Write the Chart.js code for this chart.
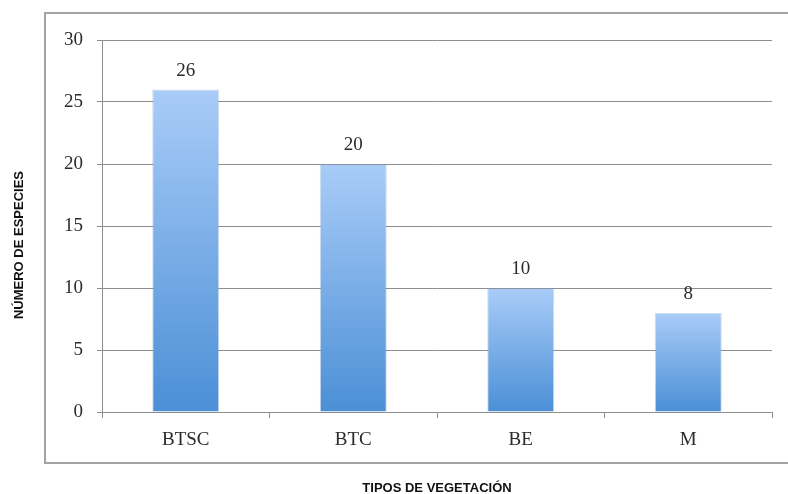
<!DOCTYPE html>
<html>
<head>
<meta charset="utf-8">
<script src="https://cdn.jsdelivr.net/npm/chart.js@4/dist/chart.umd.min.js"></script>
<style>
  html, body { margin: 0; padding: 0; background: #ffffff; }
  #wrap { width: 788px; height: 494px; position: relative; }
</style>
</head>
<body>
<div id="wrap"><canvas id="chart" width="788" height="494"></canvas></div>
<script>
// Número de especies por tipo de vegetación
const categories = ['BTSC', 'BTC', 'BE', 'M'];
const especies = [26, 20, 10, 8];
const yTicks = [0, 5, 10, 15, 20, 25, 30];

const xTitle = 'TIPOS DE VEGETACIÓN';
const yTitle = 'NÚMERO DE ESPECIES';

const serif = '"Liberation Serif", "Times New Roman", serif';
const sans = '"Liberation Sans", Arial, sans-serif';
const gridGray = '#8e8e8e';

// vertical gradient for each bar, light at the top, deeper blue at the base
function barGradient(ctx) {
  const chart = ctx.chart;
  const y = chart.scales.y;
  if (!chart.chartArea || !y || ctx.parsed == null) return '#7aaee8';
  const top = y.getPixelForValue(ctx.parsed.y);
  const base = y.getPixelForValue(0);
  if (!isFinite(top) || !isFinite(base) || top === base) return '#7aaee8';
  const g = chart.ctx.createLinearGradient(0, top, 0, base);
  g.addColorStop(0, '#a9ccf8');
  g.addColorStop(1, '#4b8fd6');
  return g;
}

// frame around the plot and the two axis titles
const framePlugin = {
  id: 'frame',
  beforeDraw(chart) {
    const c = chart.ctx;
    c.save();
    c.strokeStyle = '#a3a3a3';
    c.lineWidth = 2;
    c.strokeRect(45, 13, 800, 450);
    c.restore();
  },
  afterDraw(chart) {
    const c = chart.ctx;
    const area = chart.chartArea;
    c.save();
    c.fillStyle = '#111';
    c.font = 'bold 13px ' + sans;
    c.textAlign = 'center';
    c.textBaseline = 'middle';
    c.fillText(xTitle, (area.left + area.right) / 2, 488);
    c.translate(19, 245);
    c.rotate(-Math.PI / 2);
    c.fillText(yTitle, 0, 0);
    c.restore();
  }
};

// value printed above each bar
const valueLabels = {
  id: 'valueLabels',
  afterDatasetsDraw(chart) {
    const c = chart.ctx;
    const meta = chart.getDatasetMeta(0);
    c.save();
    c.fillStyle = '#2b2b2b';
    c.font = '19px ' + serif;
    c.textAlign = 'center';
    c.textBaseline = 'alphabetic';
    meta.data.forEach((bar, i) => {
      c.fillText(String(especies[i]), bar.x, bar.y - 14);
    });
    c.restore();
  }
};

new Chart(document.getElementById('chart'), {
  type: 'bar',
  data: {
    labels: categories,
    datasets: [{
      data: especies,
      backgroundColor: barGradient,
      borderColor: 'rgba(120,150,190,0.35)',
      borderWidth: 1,
      borderSkipped: 'bottom',
      barPercentage: 0.4,
      categoryPercentage: 1.0
    }]
  },
  options: {
    responsive: false,
    animation: false,
    events: [],
    layout: { padding: { left: 45, top: 40, right: 16, bottom: 42 } },
    plugins: {
      legend: { display: false },
      tooltip: { enabled: false },
      title: { display: false }
    },
    scales: {
      x: {
        offset: true,
        grid: {
          offset: true,
          drawOnChartArea: false,
          drawTicks: true,
          tickLength: 6,
          color: gridGray
        },
        border: { display: true, color: gridGray, width: 1 },
        ticks: {
          color: '#2b2b2b',
          font: { family: serif, size: 19 },
          padding: 11
        },
        afterFit(scale) { scale.height = 40; }
      },
      y: {
        min: 0,
        max: 30,
        afterBuildTicks(scale) { scale.ticks = yTicks.map(v => ({ value: v })); },
        grid: {
          color: gridGray,
          lineWidth: 1,
          drawTicks: true,
          tickLength: 5
        },
        border: { display: true, color: gridGray, width: 1 },
        ticks: {
          color: '#2b2b2b',
          font: { family: serif, size: 19 },
          padding: 14
        },
        afterFit(scale) { scale.width = 57; }
      }
    }
  },
  plugins: [framePlugin, valueLabels]
});
</script>
</body>
</html>
